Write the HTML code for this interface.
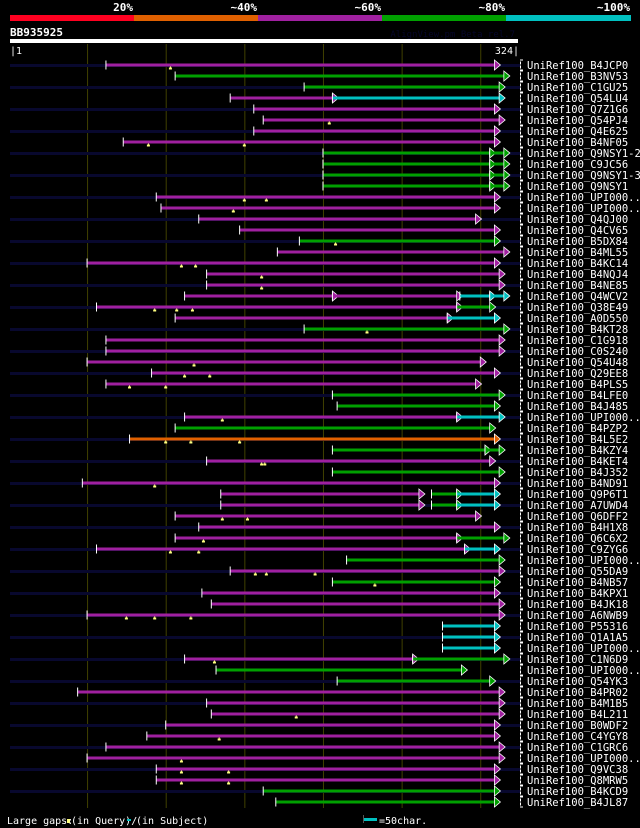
<!DOCTYPE html>
<html><head><meta charset="utf-8"><style>
html,body{margin:0;padding:0;background:#000;width:640px;height:828px;overflow:hidden}
svg{display:block}
text{font-family:"DejaVu Sans Mono","Liberation Mono",monospace}
</style></head><body>
<svg id="chart" width="640" height="828" viewBox="0 0 640 828" xmlns="http://www.w3.org/2000/svg">
<g id="header">
<rect x="10" y="15" width="124" height="6" fill="#ff0020"/>
<rect x="134" y="15" width="124" height="6" fill="#e06000"/>
<rect x="258" y="15" width="124" height="6" fill="#a020a0"/>
<rect x="382" y="15" width="124" height="6" fill="#00a000"/>
<rect x="506" y="15" width="125" height="6" fill="#00c0c0"/>
<text x="133" y="11" fill="#fff" font-size="11" font-weight="bold" text-anchor="end">20%</text>
<text x="257" y="11" fill="#fff" font-size="11" font-weight="bold" text-anchor="end">~40%</text>
<text x="381" y="11" fill="#fff" font-size="11" font-weight="bold" text-anchor="end">~60%</text>
<text x="505" y="11" fill="#fff" font-size="11" font-weight="bold" text-anchor="end">~80%</text>
<text x="630" y="11" fill="#fff" font-size="11" font-weight="bold" text-anchor="end">~100%</text>
<text x="10" y="36" fill="#fff" font-size="11" font-weight="bold">BB935925</text>
<text x="515" y="37" fill="#06062a" font-size="9" text-anchor="end">AlignView.pm Beta rel.7</text>
<rect x="10" y="39" width="508" height="4" fill="#fff"/>
<text x="10" y="54" fill="#fff" font-size="10">|1</text>
<text x="519" y="54" fill="#fff" font-size="10" text-anchor="end">324|</text>
</g>
<g id="grid"></g>
<g id="rows"></g>
<g id="footer">
<text x="7" y="824" fill="#fff" font-size="10">Large gaps:</text>
<rect x="67" y="819" width="3" height="4" fill="#ffff80"/>
<text x="71" y="824" fill="#fff" font-size="10">(in Query)/</text>
<rect x="127" y="819" width="4" height="2" fill="#00c0c0"/>
<text x="136" y="824" fill="#fff" font-size="10">(in Subject)</text>
<rect x="363" y="815" width="1" height="8" fill="#555"/>
<rect x="364" y="818" width="13" height="3" fill="#00c0c0"/>
<text x="379" y="824" fill="#fff" font-size="10">=50char.</text>
</g>
</svg>
<script>
const names=["B4JCP0","B3NV53","C1GU25","Q54LU4","Q7Z1G6","Q54PJ4","Q4E625","B4NF05","Q9NSY1-2","C9JC56","Q9NSY1-3","Q9NSY1","UPI000..","UPI000..","Q4QJ00","Q4CV65","B5DX84","B4ML55","B4KC14","B4NQJ4","B4NE85","Q4WCV2","Q38E49","A0D550","B4KT28","C1G918","C0S240","Q54U48","Q29EE8","B4PLS5","B4LFE0","B4J485","UPI000..","B4PZP2","B4L5E2","B4KZY4","B4KET4","B4J352","B4ND91","Q9P6T1","A7UWD4","Q6DFF2","B4H1X8","Q6C6X2","C9ZYG6","UPI000..","Q55DA9","B4NB57","B4KPX1","B4JK18","A6NWB9","P55316","Q1A1A5","UPI000..","C1N6D9","UPI000..","Q54YK3","B4PR02","B4M1B5","B4L211","B0WDF2","C4YGY8","C1GRC6","UPI000..","Q9VC38","Q8MRW5","B4KCD9","B4JL87"];
// segments per hit: "color:start-end" in query residue positions
const segments=["m:62-309","g:106-315","g:188-312","m:141-206,c:206-312","m:156-309","m:162-312","m:156-309","m:73-309","g:200-306,g:306-315","g:200-306,g:306-315","g:200-306,g:306-315","g:200-306,g:306-315","m:94-309","m:97-309","m:121-297","m:147-309","g:185-309","m:171-315","m:50-309","m:126-312","m:126-312","m:112-206,m:206-285,c:287-306,c:306-315","m:56-285,g:285-306","m:106-279,c:279-309","g:188-315","m:62-312","m:62-312","m:50-300","m:91-309","m:62-297","g:206-312","g:209-309","m:112-285,c:285-312","g:106-306","o:77-309","g:206-303,g:303-312","m:126-306","g:206-312","m:47-309","m:135-261,g:269-285,c:285-309","m:135-261,g:269-285,c:285-309","m:106-297","m:121-309","m:106-285,g:285-315","m:56-290,c:290-309","g:215-312","m:141-312","g:206-309","m:123-309","m:129-312","m:50-312","c:276-309","c:276-309","c:276-309","m:112-257,g:257-315","g:132-288","g:209-306","m:44-312","m:126-312","m:129-312","m:100-309","m:88-309","m:62-312","m:50-312","m:94-309","m:94-309","g:162-309","g:170-309"];
// query gap markers (residue positions)
const gaps=["103","","","","","204","","89,150","","","","","150,164","143","","","208","","110,119","161","161","","93,107,117","","228","","","118","112,128","77,100","","","136","","100,116,147","","161,163","","93","","","136,152","","124","103,121","","157,164,195","233","","","75,93,116","","","","131","","","","","183","","134","","110","110,140","110,140","",""];
const X0=10,X1=518,P0=1,P1=324;
const xs=p=>X0+(p-P0)*(X1-X0)/(P1-P0);
const ys=i=>65+i*11;
const COL={m:"#a020a0",g:"#00a000",c:"#00c0c0",o:"#e06000"};
const NS="http://www.w3.org/2000/svg";
function mk(tag,attrs,parent){const e=document.createElementNS(NS,tag);for(const k in attrs)e.setAttribute(k,attrs[k]);parent.appendChild(e);return e;}
const grid=document.getElementById('grid');
[50,100,150,200,250,300].forEach(p=>{
  const l=mk('line',{x1:xs(p)+0.5,x2:xs(p)+0.5,y1:44,y2:808,stroke:'#404000','stroke-width':1},grid);
  
  
});
const rows=document.getElementById('rows');
names.forEach((nm,i)=>{
  const y=ys(i);
  const g=mk('g',{},rows);
  
  
  if(i%2===0){
    const nv=mk('rect',{x:10,y:y-1,width:510,height:3,fill:'#08082e'},g);
    
    
  }
  segments[i].split(',').forEach(s=>{
    const [c,r]=s.split(':');const [a,b]=r.split('-').map(Number);
    const x1=xs(a),x2=xs(b);
    const bar=mk('rect',{x:x1,y:y-1.5,width:Math.max(1,x2-x1),height:3,fill:COL[c]},g);
    
    
    const tk=mk('rect',{x:x1-0.5,y:y-4.5,width:1,height:9,fill:'#fff'},g);
    
    
    const ar=mk('polygon',{points:`${x2},${y-5} ${x2+6},${y} ${x2},${y+5}`,fill:COL[c],stroke:'#fff','stroke-width':0.8},g);
    
    
  });
  if(gaps[i]) gaps[i].split(',').forEach(v=>{
    const gx=xs(Number(v));
    const gm=mk('path',{d:`M${gx-0.5} ${y+1.5} h1 v1 h1 v2 h-3 v-2 h1 z`,fill:'#ffff80'},g);
    
    
  });
  const br=mk('path',{d:`M523 ${y-5} L520.5 ${y-5} L520.5 ${y+5} L523 ${y+5}`,stroke:'#fff','stroke-width':1,fill:'none','stroke-dasharray':'3,1'},g);
  
  
  const t=mk('text',{x:527,y:y+4,fill:'#fff','font-size':'10.5'},g);
  t.textContent='UniRef100_'+nm;
  
  
});
</script>
</body></html>
